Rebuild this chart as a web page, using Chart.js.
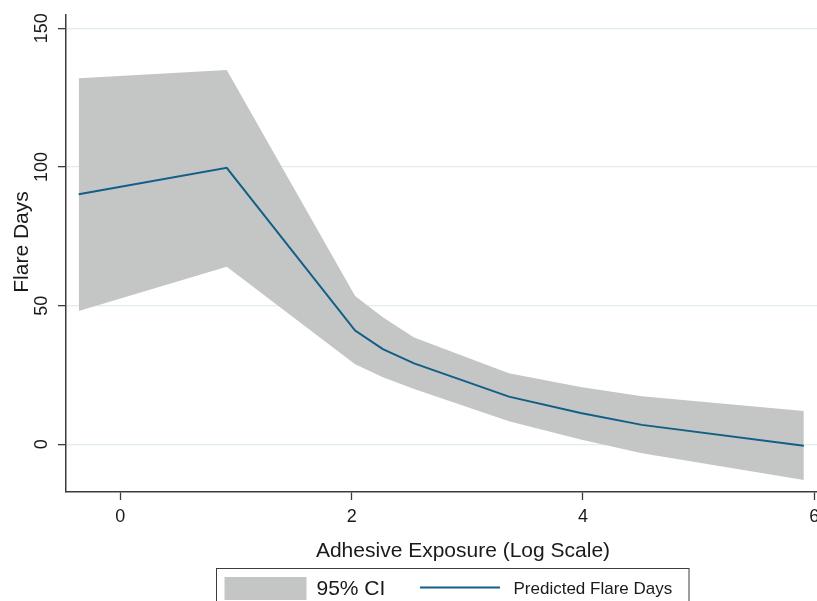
<!DOCTYPE html>
<html>
<head>
<meta charset="utf-8">
<script src="https://cdn.jsdelivr.net/npm/chart.js@4.4.1/dist/chart.umd.min.js"></script>
<style>
  html, body { margin: 0; padding: 0; background: #ffffff; }
  #wrap { width: 817px; height: 601px; position: relative; overflow: hidden; }
</style>
</head>
<body>
<div id="wrap"><canvas id="c" width="817" height="601"></canvas></div>
<script>
// ---- Data ----
const exposureLog   = [-0.36, 0.92, 2.03, 2.27, 2.54, 3.36, 3.98, 4.51, 5.91];
const predicted     = [90.2, 99.7, 41.0, 34.3, 29.2, 17.2, 11.3, 7.0, -0.5];
const ciUpper       = [132.0, 135.0, 53.5, 45.8, 38.5, 25.6, 20.7, 17.3, 12.0];
const ciLower       = [48.1, 64.0, 28.9, 24.2, 19.9, 8.3, 1.7, -3.2, -12.9];
const xTickValues   = [0, 2, 4, 6];
const yTickValues   = [0, 50, 100, 150];
const xTitle        = 'Adhesive Exposure (Log Scale)';
const yTitle        = 'Flare Days';
const legendLabels  = ['95% CI', 'Predicted Flare Days'];

// ---- Styles ----
const FONT = '"Liberation Sans", Arial, Helvetica, sans-serif';
const TEXT = '#1a1a1a';
const AXIS = '#3c3c3c';
const BAND = '#c4c6c5';
const LINE = '#115e86';
const GRID = '#e0eced';

const pts = ys => exposureLog.map((x, i) => ({ x: x, y: ys[i] }));

const labelPlugin = {
  id: 'labels',
  afterDraw(chart) {
    const ctx = chart.ctx;
    const xs = chart.scales.x, ys = chart.scales.y;
    ctx.save();
    ctx.fillStyle = TEXT;
    // y tick labels (rotated)
    ctx.font = '18px ' + FONT;
    ctx.textAlign = 'center';
    ctx.textBaseline = 'alphabetic';
    yTickValues.forEach(v => {
      const py = ys.getPixelForValue(v);
      ctx.save();
      ctx.translate(46.5, py);
      ctx.rotate(-Math.PI / 2);
      ctx.fillText(String(v), 0, 0);
      ctx.restore();
    });
    // x tick labels
    xTickValues.forEach(v => {
      const px = xs.getPixelForValue(v);
      ctx.fillText(String(v), px, 521.5);
    });
    // axis titles
    ctx.font = '21px ' + FONT;
    ctx.fillText(xTitle, 463, 557);
    ctx.save();
    ctx.translate(28, 242);
    ctx.rotate(-Math.PI / 2);
    ctx.fillText(yTitle, 0, 0);
    ctx.restore();
    // legend
    ctx.strokeStyle = AXIS;
    ctx.lineWidth = 1;
    ctx.strokeRect(216.5, 568.5, 472.5, 60);
    ctx.fillStyle = BAND;
    ctx.fillRect(224.5, 577, 82, 23);
    ctx.strokeStyle = LINE;
    ctx.lineWidth = 2;
    ctx.beginPath();
    ctx.moveTo(420, 587.5);
    ctx.lineTo(500, 587.5);
    ctx.stroke();
    ctx.fillStyle = TEXT;
    ctx.textAlign = 'left';
    ctx.font = '21px ' + FONT;
    ctx.fillText(legendLabels[0], 316.5, 594.5);
    ctx.font = '17px ' + FONT;
    ctx.fillText(legendLabels[1], 513.5, 593.5);
    ctx.restore();
  }
};

new Chart(document.getElementById('c'), {
  type: 'line',
  data: {
    datasets: [
      {
        label: legendLabels[1],
        data: pts(predicted),
        borderColor: LINE,
        borderWidth: 2,
        pointRadius: 0,
        fill: false,
        tension: 0
      },
      {
        label: legendLabels[0],
        data: pts(ciUpper),
        borderWidth: 0,
        borderColor: 'rgba(0,0,0,0)',
        backgroundColor: BAND,
        pointRadius: 0,
        fill: '+1',
        tension: 0
      },
      {
        label: 'lower',
        data: pts(ciLower),
        borderWidth: 0,
        borderColor: 'rgba(0,0,0,0)',
        backgroundColor: BAND,
        pointRadius: 0,
        fill: false,
        tension: 0
      }
    ]
  },
  options: {
    responsive: false,
    animation: false,
    devicePixelRatio: 1,
    layout: { padding: { top: 15, right: 0, bottom: 0, left: 0 } },
    plugins: { legend: { display: false }, tooltip: { enabled: false } },
    scales: {
      x: {
        type: 'linear',
        min: -0.47,
        max: 6.024,
        afterBuildTicks: s => { s.ticks = xTickValues.map(v => ({ value: v })); },
        afterFit: s => { s.height = 109; },
        ticks: { display: false },
        grid: {
          drawOnChartArea: false,
          drawTicks: true,
          tickLength: 8,
          tickColor: AXIS,
          tickWidth: 1.3
        },
        border: { display: true, color: AXIS, width: 1.5 }
      },
      y: {
        type: 'linear',
        min: -17.2,
        max: 154.8,
        afterBuildTicks: s => { s.ticks = yTickValues.map(v => ({ value: v })); },
        afterFit: s => { s.width = 66; },
        ticks: { display: false },
        grid: {
          color: GRID,
          lineWidth: 1.3,
          drawTicks: true,
          tickLength: 8,
          tickColor: AXIS,
          tickWidth: 1.3
        },
        border: { display: true, color: AXIS, width: 1.5 }
      }
    }
  },
  plugins: [labelPlugin]
});
</script>
</body>
</html>
